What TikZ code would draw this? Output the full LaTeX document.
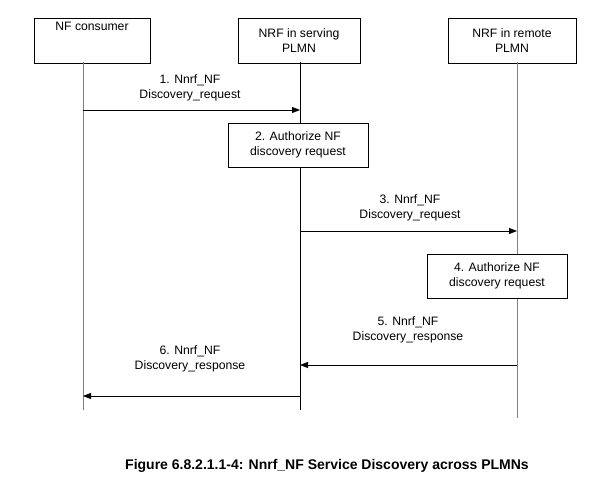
\documentclass[tikz,border=0pt]{standalone}
\usepackage{fontspec}
\setmainfont{Liberation Sans}
\usetikzlibrary{arrows.meta}
\begin{document}
\begin{tikzpicture}[x=1pt,y=-1pt,font=\fontsize{12.2}{15}\selectfont,
    entity/.style={draw,minimum width=116pt,minimum height=45pt,anchor=north,align=center,text depth=0pt},
    authbox/.style={draw,minimum width=140pt,minimum height=44pt,align=center,fill=white},
    msg/.style={-{Triangle[length=8pt,width=6pt]},thick},
    lbl/.style={align=center}]
    \useasboundingbox (0,0) rectangle (611,484);
    % entities
    \node[entity] (cons) at (92,18) {NF consumer\\[13pt]};
    \node[entity,minimum width=122pt] (serv) at (299,18) {NRF in serving\\PLMN};
    \node[entity,minimum width=128pt] (rem) at (512,18) {NRF in remote\\PLMN};
    \coordinate (consE) at (83,410);
    \coordinate (servE) at (300,410);
    \coordinate (remE) at (517,418);
    \draw[gray,thick] (83,62) -- (consE);
    \draw (300,62) -- (servE);
    \draw[gray,thick] (517,62) -- (remE);
    % steps
    \coordinate (a1) at (83,110); \coordinate (b1) at (300,110);
    \draw[msg] (a1) -- (b1);
    \node[lbl] at (190,88) {1. Nnrf\_NF\\Discovery\_request};
    \node[authbox] (auth1) at (298,145) {2. Authorize NF\\discovery request};
    \coordinate (a3) at (300,231); \coordinate (b3) at (517,231);
    \draw[msg] (a3) -- (b3);
    \node[lbl] at (410,208) {3. Nnrf\_NF\\Discovery\_request};
    \node[authbox] (auth2) at (497,276) {4. Authorize NF\\discovery request};
    \coordinate (a5) at (517,365); \coordinate (b5) at (300,365);
    \draw[msg] (a5) -- (b5);
    \node[lbl] at (408,330) {5. Nnrf\_NF\\Discovery\_response};
    \coordinate (a6) at (300,396); \coordinate (b6) at (83,396);
    \draw[msg] (a6) -- (b6);
    \node[lbl] at (190,359) {6. Nnrf\_NF\\Discovery\_response};
    % caption
    \node[font=\fontsize{14}{16}\selectfont\bfseries] (cap) at (327,466) {Figure 6.8.2.1.1-4: Nnrf\_NF Service Discovery across PLMNs};
\end{tikzpicture}
\end{document}
